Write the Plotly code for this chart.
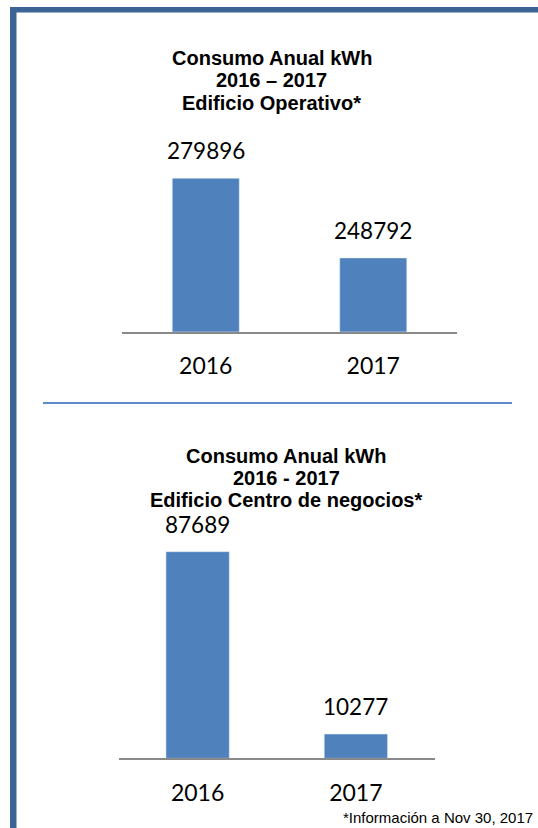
import plotly.graph_objects as go

W, H = 538, 828

# ---- data ----
years = ["2016", "2017"]
operativo_kwh = [279896, 248792]
negocios_kwh = [87689, 10277]
title_operativo = ["Consumo Anual kWh", "2016 \u2013 2017", "Edificio Operativo*"]
title_negocios = ["Consumo Anual kWh", "2016 - 2017", "Edificio Centro de negocios*"]
footnote = "*Información a Nov 30, 2017"

BAR = "#4F81BD"
BORDER = "#3C6494"
AXIS = "#898989"
NUM_FONT = "Lato, Calibri, sans-serif"
TITLE_FONT = "Liberation Sans, Arial, sans-serif"


def px(x):
    return x / W


def py(y):
    return 1 - y / H


fig = go.Figure()
fig.add_trace(go.Bar(x=years, y=operativo_kwh, marker_color=BAR, width=0.4,
                     xaxis="x", yaxis="y", hoverinfo="skip"))
fig.add_trace(go.Bar(x=years, y=negocios_kwh, marker_color=BAR, width=0.4,
                     xaxis="x2", yaxis="y2", hoverinfo="skip"))

annotations = []
# value labels (x given as category index)
for xr, yr, vals in (("x", "y", operativo_kwh), ("x2", "y2", negocios_kwh)):
    for i, v in enumerate(vals):
        annotations.append(dict(x=i, y=v, xref=xr, yref=yr, text=str(v),
                                showarrow=False, yanchor="middle", yshift=27.5,
                                font=dict(family=NUM_FONT, size=22.5, color="#000")))

# titles (one annotation per line)
for lines, cx, ys in ((title_operativo, 271.5, [58.5, 80.5, 102.5]),
                      (title_negocios, 286, [456.0, 478.0, 500.0])):
    for t, yy in zip(lines, ys):
        annotations.append(dict(x=px(cx), y=py(yy), xref="paper", yref="paper",
                                text="<b>%s</b>" % t, showarrow=False,
                                xanchor="center", yanchor="middle",
                                font=dict(family=TITLE_FONT, size=20, color="#000")))

annotations.append(dict(x=px(535), y=py(817.5), xref="paper", yref="paper",
                        text=footnote, showarrow=False, xanchor="right",
                        yanchor="middle",
                        font=dict(family=TITLE_FONT, size=15, color="#000")))

shapes = [
    # frame: top and left border
    dict(type="rect", xref="paper", yref="paper", x0=px(10), x1=1,
         y0=py(12.5), y1=py(7), fillcolor=BORDER, line_width=0, layer="above"),
    dict(type="rect", xref="paper", yref="paper", x0=px(10), x1=px(16.5),
         y0=0, y1=py(7), fillcolor=BORDER, line_width=0, layer="above"),
    # separator
    dict(type="line", xref="paper", yref="paper", x0=px(43), x1=px(512),
         y0=py(403), y1=py(403), line=dict(color="#5B8BC6", width=2)),
]

xcommon = dict(type="category", showline=True, linecolor=AXIS, linewidth=1.7,
               ticks="", showgrid=False, zeroline=False, fixedrange=True,
               tickfont=dict(family=NUM_FONT, size=23, color="#000"),
               ticklabelstandoff=13, range=[-0.5, 1.5])
ycommon = dict(showgrid=False, zeroline=False, showticklabels=False,
               showline=False, ticks="", fixedrange=True)

fig.update_layout(
    width=W, height=H,
    margin=dict(l=0, r=0, t=0, b=0),
    paper_bgcolor="white", plot_bgcolor="white",
    showlegend=False,
    xaxis=dict(domain=[px(122), px(457)], anchor="y", **xcommon),
    yaxis=dict(domain=[py(331.7), py(152.4)], anchor="x",
               range=[220000, 290000], **ycommon),
    xaxis2=dict(domain=[px(118.5), px(435)], anchor="y2", **xcommon),
    yaxis2=dict(domain=[py(758.3), py(522.7)], anchor="x2",
                range=[0, 100000], **ycommon),
    annotations=annotations,
    shapes=shapes,
)

fig.write_html("out.html", config={"displayModeBar": False},
               post_script="document.body.style.margin='0';"
                           "document.body.style.overflow='hidden';")
